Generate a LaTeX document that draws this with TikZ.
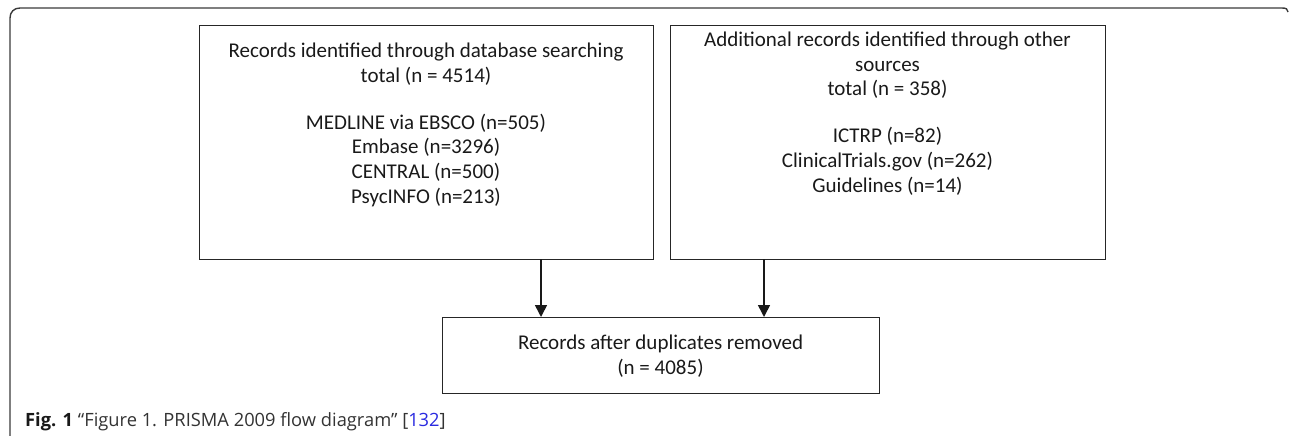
\documentclass[tikz,border=0pt]{standalone}
\usepackage{fontspec}
\setmainfont{Carlito}
\newfontfamily\capfont{Open Sans}
\usetikzlibrary{arrows.meta}
\definecolor{framegray}{HTML}{3A3A3A}
\definecolor{captxt}{HTML}{333333}
\definecolor{refblue}{HTML}{2A2AE0}
\tikzset{
  boxstyle/.style={draw=black!85, line width=1.3pt, rectangle, inner sep=0pt, anchor=north west},
  txtstyle/.style={align=center, inner sep=0pt, font=\fontsize{21}{24.7}\selectfont, text=black!90},
  arrowstyle/.style={draw=black!90, line width=1.6pt, -{Triangle[length=12pt,width=12pt]}},
  framestyle/.style={draw=framegray, line width=1.4pt}
}
\begin{document}
\begin{tikzpicture}[x=1pt,y=-1pt]
\useasboundingbox (0,0) rectangle (1290,436);
% outer frame
\coordinate (fbl) at (10,440);
\coordinate (ftr) at (1288,12);
\draw[framestyle] (fbl) -- (10,18) .. controls (10,12) and (14,8) .. (20,8) -- (1282,8) .. controls (1286,8) and (1288,9) .. (ftr);
% boxes
\node[boxstyle, minimum width=454pt, minimum height=234pt] (b1) at (199,25) {};
\node[boxstyle, minimum width=435pt, minimum height=234pt] (b2) at (670,25) {};
\node[boxstyle, minimum width=437pt, minimum height=76pt] (b3) at (442,317) {};
% texts
\node[txtstyle] (t1) at (426,125) {Records identified through database searching\\total (n = 4514)\\[22pt]MEDLINE via EBSCO (n=505)\\Embase (n=3296)\\CENTRAL (n=500)\\PsycINFO (n=213)};
\node[txtstyle] (t2) at (887.5,113.5) {Additional records identified through other\\sources\\total (n = 358)\\[22pt]ICTRP (n=82)\\ClinicalTrials.gov (n=262)\\Guidelines (n=14)};
\node[txtstyle] (t3) at (660.5,356.5) {Records after duplicates removed\\(n = 4085)};
% arrows
\coordinate (a1) at (541,259);
\coordinate (a2) at (764,259);
\draw[arrowstyle] (a1) -- (a1 |- b3.north);
\draw[arrowstyle] (a2) -- (a2 |- b3.north);
% caption
\node[anchor=base west, inner sep=0pt, font=\capfont\fontsize{18.3}{22}\selectfont, text=captxt] (cap) at (25,426) {\textbf{\color{black!90}Fig. 1} “Figure 1. PRISMA 2009 flow diagram” [\textcolor{refblue}{132}]};
\end{tikzpicture}
\end{document}
